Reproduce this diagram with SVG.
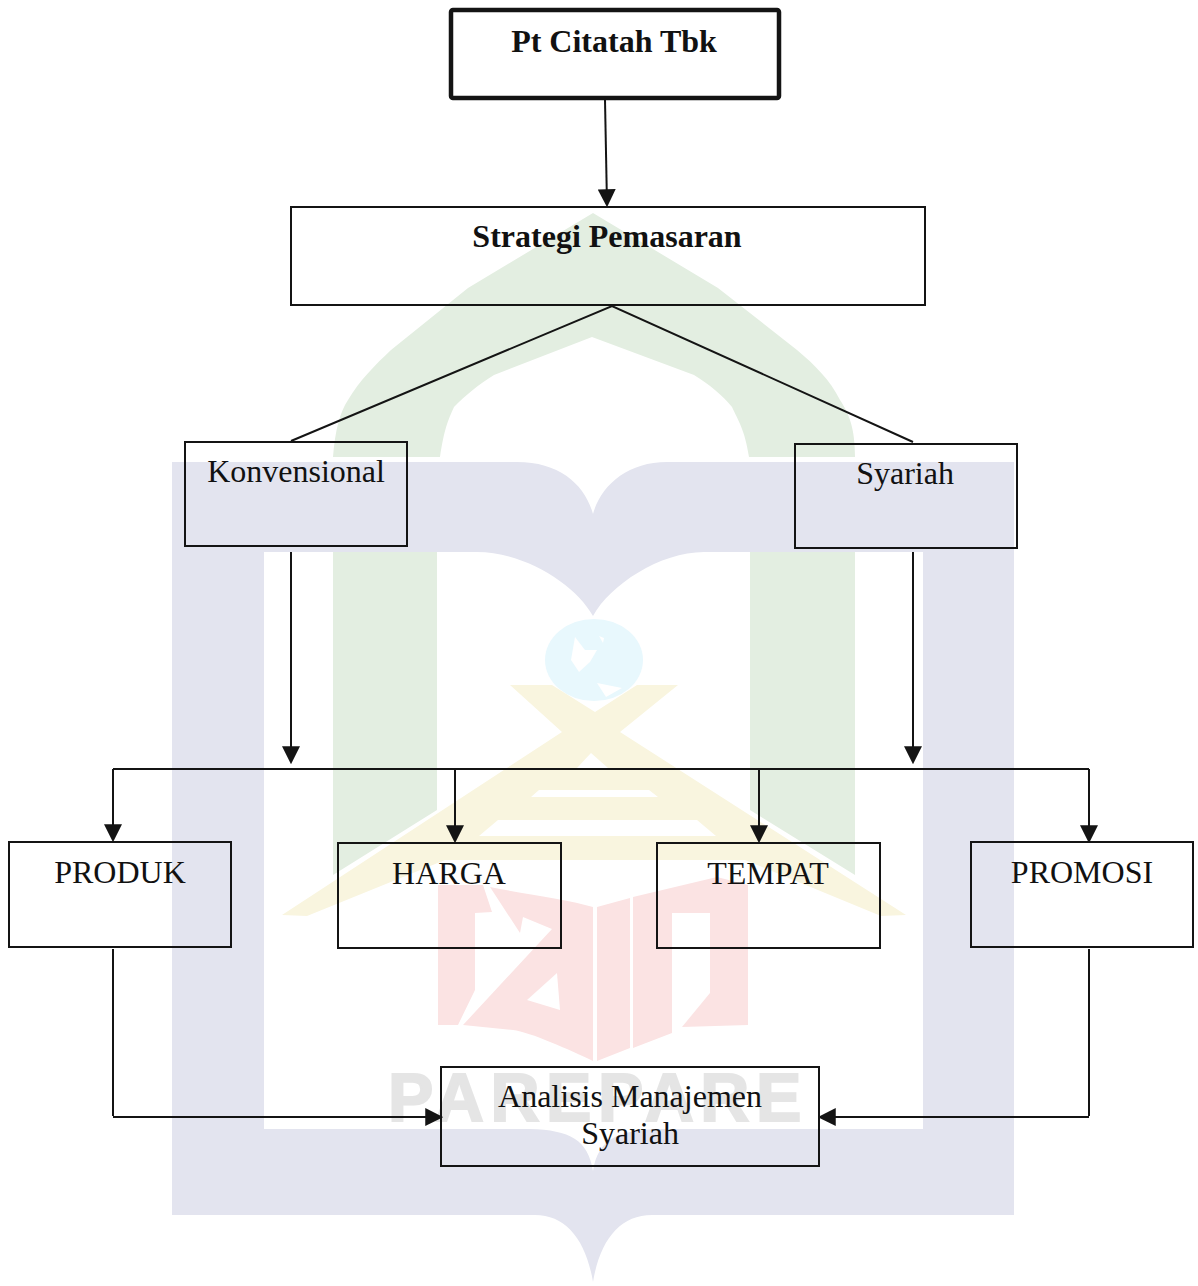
<svg xmlns="http://www.w3.org/2000/svg" width="1198" height="1286" viewBox="0 0 1198 1286">
<style>
.box{fill:none;stroke:#141414;stroke-width:2}
.t{font-family:"Liberation Serif","Times New Roman",serif;font-size:32px;fill:#111;text-anchor:middle}
.b{font-weight:bold}
.c{fill:none;stroke:#141414;stroke-width:2}
.a{marker-end:url(#arrow)}
</style>
<defs>
<marker id="arrow" markerUnits="userSpaceOnUse" markerWidth="18" markerHeight="18" viewBox="0 0 16 16" refX="14" refY="8" orient="auto">
<path d="M0 0L16 8L0 16Z" fill="#141414"/>
</marker>
</defs>
<rect width="1198" height="1286" fill="#fff"/>
<g id="watermark">
<path fill="#e3eee1" d="M333 457C335 430 340 412 348 400C360 380 375 365 391 350L468 288L593 213L718 288L797 350C815 365 830 380 840 400C850 415 855 430 855 457H749C745 430 738 420 732 407C722 395 710 385 694 375L592 337L494 375C478 385 466 395 454 407C448 420 444 430 440 457Z"/>
<path fill="#e3eee1" d="M333 552H437V810L333 875ZM750 552H855V875L750 810Z"/>
<path fill="#e3e4ef" fill-rule="evenodd" d="M172 462H517C560 462 585 485 593 514C601 485 628 462 667 462H1014V1215H652C620 1215 600 1240 593 1282C586 1240 566 1215 535 1215H172ZM264 552V1129H530C570 1130 588 1140 593 1171C598 1140 616 1130 660 1129H923V552H704C660 552 610 585 593 616C576 585 525 552 477 552Z"/>
<ellipse cx="594" cy="660" rx="49" ry="41" fill="#e8f8fd"/>
<path fill="#fff" d="M575 637L585 650L597 650L590 662L579 672L571 660ZM597 683L622 688L606 697ZM599 636L604 638L603 643Z"/>
<path fill="#f9f5df" d="M510 685H552L595 712L637 685H678L620 732L906 915L881 916L745 860H445L307 916L282 915L562 732Z"/>
<path fill="#fff" d="M591 753L608 768H577ZM539 790H649L658 797H531ZM498 820H697L716 836H479Z"/>
<path fill="#fbe3e3" d="M438 885H483L492 912L475 913V990L458 1025H438ZM490 887C530 895 570 900 593 907V1061C570 1050 530 1032 513 1030L463 1025L552 929L523 917L520 933Z"/>
<path fill="#fff" d="M557 973L527 1000L560 1010Z"/>
<path fill="#fbe3e3" d="M597 907L630 898V1048L597 1061ZM633 897L717 877L748 885V1025L682 1027L710 993V913H672V1033L633 1048Z"/>
<text x="388" y="1121" font-family="Liberation Sans,Arial,sans-serif" font-weight="bold" font-size="68" letter-spacing="6.5" fill="#e5e5e5" stroke="#e5e5e5" stroke-width="2">PAREPARE</text>
</g>
<g id="connectors">
<path class="c a" d="M605 100L607 205"/>
<path class="c" d="M291 441L612 306L913 442"/>
<path class="c a" d="M291 552V762"/>
<path class="c a" d="M913 552V762"/>
<path class="c" d="M113 769H1089"/>
<path class="c a" d="M113 769V840"/>
<path class="c a" d="M455 769V841"/>
<path class="c a" d="M759 769V841"/>
<path class="c a" d="M1089 769V841"/>
<path class="c" d="M113 949V1116"/>
<path class="c a" d="M113 1117H441"/>
<path class="c" d="M1089 949V1116"/>
<path class="c a" d="M1089 1117H820"/>
</g>
<g id="pt-citatah"><rect x="451" y="10" width="328" height="88" rx="2" fill="none" stroke="#141414" stroke-width="4.5"/><text class="t b" x="614" y="52">Pt Citatah Tbk</text></g>
<g id="strategi"><rect class="box" x="291" y="207" width="634" height="98"/><text class="t b" x="607" y="247">Strategi Pemasaran</text></g>
<g id="konvensional"><rect class="box" x="185" y="442" width="222" height="104"/><text class="t" x="296" y="482">Konvensional</text></g>
<g id="syariah"><rect class="box" x="795" y="444" width="222" height="104"/><text class="t" x="905" y="484">Syariah</text></g>
<g id="produk"><rect class="box" x="9" y="842" width="222" height="105"/><text class="t" x="120" y="883">PRODUK</text></g>
<g id="harga"><rect class="box" x="338" y="843" width="223" height="105"/><text class="t" x="449" y="884">HARGA</text></g>
<g id="tempat"><rect class="box" x="657" y="843" width="223" height="105"/><text class="t" x="768" y="884">TEMPAT</text></g>
<g id="promosi"><rect class="box" x="971" y="842" width="222" height="105"/><text class="t" x="1082" y="883">PROMOSI</text></g>
<g id="analisis"><rect class="box" x="441" y="1067" width="378" height="99"/><text class="t" x="630" y="1107">Analisis Manajemen</text><text class="t" x="630" y="1144">Syariah</text></g>
</svg>
